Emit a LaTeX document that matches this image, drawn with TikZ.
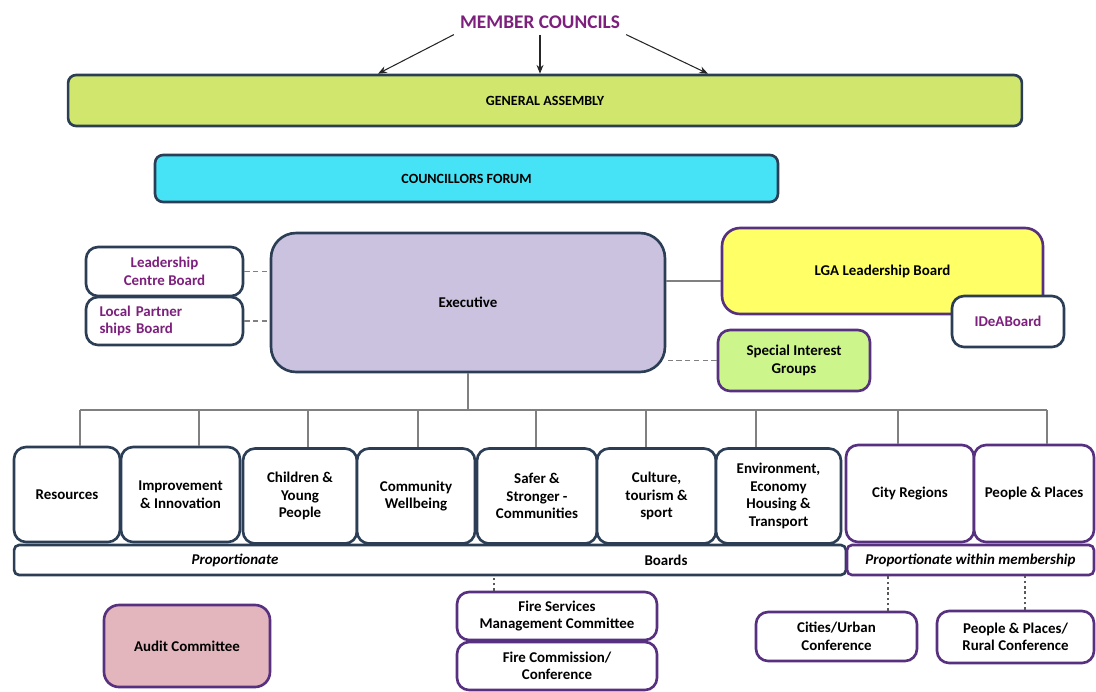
\documentclass[tikz,border=0pt]{standalone}
\usepackage{fontspec}
\setmainfont{Carlito}
\usetikzlibrary{arrows.meta}
\definecolor{navyb}{RGB}{44,62,86}
\definecolor{purpb}{RGB}{88,48,128}
\definecolor{purptxt}{RGB}{125,32,125}
\definecolor{gafill}{RGB}{208,230,108}
\definecolor{cffill}{RGB}{70,226,246}
\definecolor{exfill}{RGB}{202,194,222}
\definecolor{lgafill}{RGB}{255,255,102}
\definecolor{sigfill}{RGB}{204,246,140}
\definecolor{audfill}{RGB}{226,182,188}
\begin{document}
\begin{tikzpicture}[x=0.02cm,y=-0.02cm]
    \tikzset{mod/.style={draw=navyb,line width=1.5pt,rounded corners=0.24cm,fill=white,
      align=center,inner sep=1pt,font=\fontsize{8.5}{10}\selectfont\bfseries},
    pmod/.style={mod,draw=purpb},
    link/.style={draw=black!50,line width=0.8pt},
    dlink/.style={link,dash pattern=on 3pt off 2pt},
    dotl/.style={draw=black!65,line width=0.8pt,dash pattern=on 1.5pt off 1.5pt},
    arr/.style={-{Stealth[length=5pt,width=4pt]},line width=0.6pt,black!85}}
    \useasboundingbox (0,0) rectangle (1096,691);
    \node[text=purptxt,font=\fontsize{11}{13}\selectfont\bfseries] (mc) at (540,22) {MEMBER COUNCILS};
    \node[mod,fill=gafill,rounded corners=0.16cm,minimum width=19.08cm,minimum height=1.02cm,
      font=\fontsize{8}{10}\selectfont\bfseries] (ga) at (545,100.5) {GENERAL ASSEMBLY};
    \node[mod,fill=cffill,rounded corners=0.16cm,minimum width=12.46cm,minimum height=0.94cm,
      font=\fontsize{8}{10}\selectfont\bfseries] (cf) at (466.5,178.5) {COUNCILLORS FORUM};
    \draw[arr] (mc.south west) -- (ga.north -| 378,0);
    \draw[arr] (mc.south) -- (mc.south |- ga.north);
    \draw[arr] (mc.south east) -- (ga.north -| 708,0);

    % executive and its side boards
    \node[mod,fill=exfill,rounded corners=0.5cm,minimum width=7.88cm,minimum height=2.78cm] (exec) at (468,302.5) {Executive};
    \node[mod,text=purptxt,minimum width=3.14cm,minimum height=0.98cm] (lcb) at (164.5,271.5) {Leadership\\Centre Board};
    \node[mod,text=purptxt,align=left,text width=2.6cm,inner xsep=0.27cm,minimum height=0.96cm] (lpb) at (164.5,321) {Local Partner\\ships Board};
    \node[pmod,fill=lgafill,rounded corners=0.36cm,minimum width=6.42cm,minimum height=1.72cm] (lga) at (882.5,271) {LGA Leadership Board};
    \node[mod,text=purptxt,minimum width=2.24cm,minimum height=1.02cm] (idea) at (1008,321.5) {IDeABoard};
    \node[pmod,fill=sigfill,minimum width=3.04cm,minimum height=1.22cm] (sig) at (794,360.5) {Special Interest\\Groups};
    \draw[dlink] (lcb.east) -- (lcb.east -| exec.west);
    \draw[dlink] (lpb.east) -- (lpb.east -| exec.west);
    \draw[link] ([yshift=-0.2cm]lga.west) -- ([yshift=-0.2cm]lga.west -| exec.east);
    \draw[dlink] (sig.west) -- (sig.west -| exec.east);

    % boards
    \node[mod,minimum width=2.12cm,minimum height=1.9cm] (res) at (67,494.5) {Resources};
    \node[mod,minimum width=2.38cm,minimum height=1.9cm] (imp) at (180.5,494.5) {Improvement\\\& Innovation};
    \node[mod,minimum width=2.28cm,minimum height=1.9cm] (cyp) at (300,496) {Children \&\\Young\\People};
    \node[mod,minimum width=2.36cm,minimum height=1.9cm] (cw) at (416,496) {Community\\Wellbeing};
    \node[mod,minimum width=2.4cm,minimum height=1.9cm] (ssc) at (537,496) {Safer \&\\Stronger -\\Communities};
    \node[mod,minimum width=2.38cm,minimum height=1.9cm] (ctc) at (656.5,496) {Culture,\\tourism \&\\sport};
    \node[mod,minimum width=2.5cm,minimum height=1.9cm] (eeh) at (778.5,496) {Environment,\\Economy\\Housing \&\\Transport};
    \node[pmod,minimum width=2.56cm,minimum height=1.94cm] (cr) at (910,493.5) {City Regions};
    \node[pmod,minimum width=2.4cm,minimum height=1.94cm] (pp) at (1034,493.5) {People \& Places};
    \node[mod,rounded corners=0.1cm,minimum width=16.64cm,minimum height=0.6cm] (pbar) at (430,560) {};
    \node[font=\fontsize{8.5}{10}\selectfont\bfseries\itshape] (prop) at (pbar.center -| 235,0) {Proportionate};
    \node[font=\fontsize{8.5}{10}\selectfont\bfseries] (brds) at (pbar.center -| 666,0) {Boards};
    \node[pmod,rounded corners=0.1cm,minimum width=4.94cm,minimum height=0.6cm,
      font=\fontsize{8.5}{10}\selectfont\bfseries\itshape] (pwm) at (970.5,560) {Proportionate within membership};

    % bus from executive
    \coordinate (busL) at (80,410);
    \coordinate (busR) at (1047,410);
    \draw[link] (exec.south) -- (exec.south |- busL);
    \draw[link] (busL) -- (busR);
    \foreach \b/\x in {res/80,imp/199,cyp/308,cw/418,ssc/536,ctc/646,eeh/756,cr/898,pp/1047}
      \draw[link] (busL -| \x,0) -- (\b.north -| \x,0);

    % committees and conferences
    \node[pmod,fill=audfill,rounded corners=0.3cm,minimum width=3.32cm,minimum height=1.64cm] (audit) at (187,646) {Audit Committee};
    \node[pmod,minimum width=4cm,minimum height=0.96cm] (fsmc) at (557,616) {Fire Services\\Management Committee};
    \node[pmod,minimum width=4cm,minimum height=0.96cm] (fcc) at (557,666) {Fire Commission/\\Conference};
    \node[pmod,minimum width=3.22cm,minimum height=0.98cm] (cuc) at (836.5,636.5) {Cities/Urban\\Conference};
    \node[pmod,minimum width=3.14cm,minimum height=1.04cm] (rur) at (1015.5,637) {People \& Places/\\Rural Conference};
    \draw[dotl] (fsmc.north -| 494,0) -- (pbar.south -| 494,0);
    \draw[dotl] (cuc.north -| 888,0) -- (pwm.south -| 888,0);
    \draw[dotl] (rur.north -| 1025,0) -- (pwm.south -| 1025,0);
\end{tikzpicture}
\end{document}
